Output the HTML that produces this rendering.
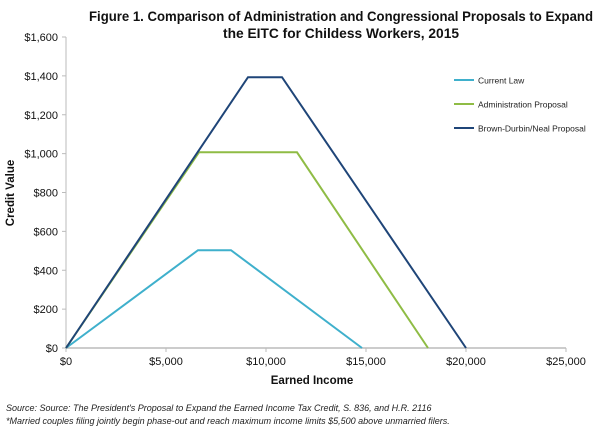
<!DOCTYPE html>
<html><head><meta charset="utf-8"><style>
body{margin:0;background:#fff;}
svg{display:block;font-family:"Liberation Sans",sans-serif;}
</style></head><body>
<svg id="chart" width="600" height="430">
<text x="341" y="21" text-anchor="middle" font-size="14" font-weight="bold" fill="#111" textLength="504" lengthAdjust="spacingAndGlyphs">Figure 1. Comparison of Administration and Congressional Proposals to Expand</text>
<text x="341" y="38" text-anchor="middle" font-size="14" font-weight="bold" fill="#111" textLength="236" lengthAdjust="spacingAndGlyphs">the EITC for Childess Workers, 2015</text>
<text transform="translate(14,193) rotate(-90)" text-anchor="middle" font-size="11.5" font-weight="bold" fill="#111">Credit Value</text>
<text x="312" y="384" text-anchor="middle" font-size="11.5" font-weight="bold" fill="#111">Earned Income</text>
<text x="6" y="411" font-size="9" font-style="italic" fill="#222">Source: Source: The President's Proposal to Expand the Earned Income Tax Credit, S. 836, and H.R. 2116</text>
<text x="6" y="424" font-size="9" font-style="italic" fill="#222">*Married couples filing jointly begin phase-out and reach maximum income limits $5,500 above unmarried filers.</text>
<g id="axes"></g>
<g id="series"></g>
<g id="legend"></g>
</svg>
<script>
const xTicks=[0,5000,10000,15000,20000,25000];
const yTicks=[0,200,400,600,800,1000,1200,1400,1600];
const seriesNames=["Current Law","Administration Proposal","Brown-Durbin/Neal Proposal"];
const seriesColors=["#3fb0cc","#8fbc45","#1f4578"];
const currentX=[0,6600,8250,14800];
const currentY=[0,503,503,0];
const adminX=[0,6650,11550,18100];
const adminY=[0,1007,1007,0];
const brownX=[0,9100,10800,20000];
const brownY=[0,1393,1393,0];
const NS="http://www.w3.org/2000/svg";
const x0=66,x1=566,y0=348,y1=37;
function sx(v){return x0+(v-0)/(25000)*(x1-x0);}
function sy(v){return y0-(v/1600)*(y0-y1);}
function fmt(v){return "$"+v.toLocaleString("en-US");}
function mk(tag,attrs,parent){const e=document.createElementNS(NS,tag);for(const k in attrs)e.setAttribute(k,attrs[k]);parent.appendChild(e);return e;}
const axes=document.getElementById("axes");
let l=mk("line",{x1:x0,y1:y1,x2:x0,y2:y0,stroke:"#bbb","stroke-width":1},axes);


l=mk("line",{x1:x0,y1:y0,x2:x1,y2:y0,stroke:"#bbb","stroke-width":1.5},axes);


yTicks.forEach(v=>{
 const t=mk("line",{x1:x0-4,y1:sy(v),x2:x0,y2:sy(v),stroke:"#bbb"},axes);
 
 
 const tx=mk("text",{x:x0-8,y:sy(v)+4,"text-anchor":"end","font-size":11,fill:"#111"},axes);
 tx.textContent=fmt(v);
 
 
});
xTicks.forEach(v=>{
 const t=mk("line",{x1:sx(v),y1:y0,x2:sx(v),y2:y0+4,stroke:"#bbb"},axes);
 
 
 const tx=mk("text",{x:sx(v),y:y0+17,"text-anchor":"middle","font-size":11,fill:"#111"},axes);
 tx.textContent=fmt(v);
 
 
});
const data=[[currentX,currentY],[adminX,adminY],[brownX,brownY]];
const sg=document.getElementById("series");
const keys=["current-law-line","administration-proposal-line","brown-durbin-neal-line"];
data.forEach((d,i)=>{
 const pts=d[0].map((x,j)=>sx(x)+","+sy(d[1][j])).join(" ");
 const p=mk("polyline",{points:pts,fill:"none",stroke:seriesColors[i],"stroke-width":2},sg);
 
 
});
const lg=document.getElementById("legend");
seriesNames.forEach((n,i)=>{
 const y=80+i*24;
 const ln=mk("line",{x1:454,y1:y,x2:474,y2:y,stroke:seriesColors[i],"stroke-width":2},lg);
 
 
 const t=mk("text",{x:478,y:y+3.5,"font-size":8.5,fill:"#222"},lg);
 t.textContent=n;
 
 
});
</script>
</body></html>
